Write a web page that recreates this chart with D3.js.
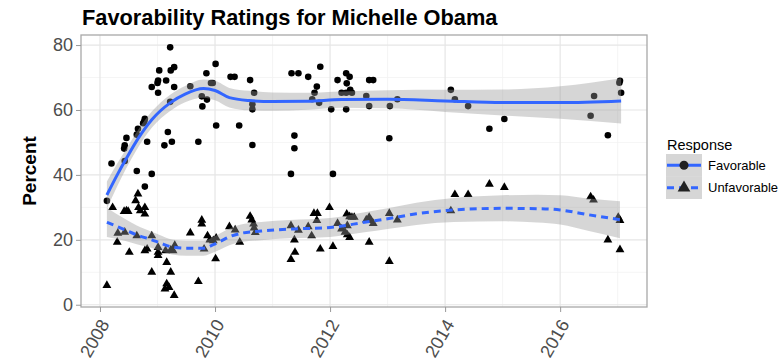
<!DOCTYPE html>
<html>
<head>
<meta charset="utf-8">
<script src="https://cdn.jsdelivr.net/npm/d3@7"></script>
<style>
  html, body { margin: 0; padding: 0; background: #fff; }
  svg { display: block; font-family: "Liberation Sans", Arial, sans-serif; }
</style>
</head>
<body>
<svg id="chart" width="778" height="360"></svg>
<script>
// Poll results: decimal year and percent for each survey
const favYear = [2008.12, 2008.20, 2008.42, 2008.43, 2008.43, 2008.46, 2008.64, 2008.64, 2008.66, 2008.75,
  2008.77, 2008.78, 2008.78, 2008.82, 2008.90, 2008.90, 2009.00, 2009.01, 2009.01, 2009.03,
  2009.12, 2009.15, 2009.18, 2009.22, 2009.22, 2009.23, 2009.25, 2009.29, 2009.29, 2009.57,
  2009.71, 2009.77, 2009.78, 2009.85, 2009.86, 2009.93, 2009.96, 2010.01, 2010.02, 2010.27,
  2010.34, 2010.42, 2010.61, 2010.65, 2010.65, 2010.65, 2010.68, 2011.32, 2011.33, 2011.38,
  2011.38, 2011.45, 2011.62, 2011.69, 2011.73, 2011.77, 2011.81, 2011.83, 2012.02, 2012.05,
  2012.13, 2012.20, 2012.28, 2012.28, 2012.28, 2012.29, 2012.34, 2012.35, 2012.38, 2012.63,
  2012.68, 2012.68, 2012.75, 2013.03, 2013.04, 2013.17, 2014.10, 2014.17, 2014.40, 2014.77,
  2015.03, 2016.53, 2016.59, 2016.83, 2017.03, 2017.04, 2017.06];
const favValue = [32.0, 43.5, 48.1, 49.1, 44.3, 51.4, 41.2, 52.4, 54.2, 55.9,
  56.5, 57.3, 36.4, 50.2, 40.3, 67.1, 68.3, 69.1, 65.3, 72.2,
  49.1, 69.1, 53.2, 79.3, 62.5, 72.2, 50.2, 73.2, 67.1, 67.3,
  50.2, 64.2, 61.1, 71.3, 63.2, 68.3, 68.3, 74.2, 55.2, 70.2,
  70.2, 55.2, 69.2, 61.8, 60.2, 49.2, 65.3, 40.3, 71.3, 52.1,
  48.2, 71.3, 70.2, 63.3, 65.3, 67.2, 62.2, 73.3, 60.2, 40.3,
  69.2, 65.3, 71.3, 65.3, 60.2, 68.2, 70.2, 66.2, 65.3, 64.3,
  69.2, 61.2, 69.2, 51.3, 61.2, 63.3, 66.2, 63.3, 61.2, 54.2,
  57.2, 58.2, 64.3, 52.2, 68.4, 69.0, 65.3];

const unfYear = [2008.12, 2008.22, 2008.30, 2008.31, 2008.42, 2008.43, 2008.46, 2008.49, 2008.51, 2008.62,
  2008.64, 2008.66, 2008.67, 2008.70, 2008.78, 2008.78, 2008.78, 2008.82, 2008.90, 2008.90,
  2009.01, 2009.01, 2009.01, 2009.13, 2009.14, 2009.16, 2009.16, 2009.20, 2009.23, 2009.23,
  2009.27, 2009.29, 2009.30, 2009.57, 2009.71, 2009.77, 2009.77, 2009.81, 2009.87, 2009.91,
  2009.97, 2010.01, 2010.02, 2010.25, 2010.35, 2010.43, 2010.61, 2010.64, 2010.67, 2010.68,
  2010.70, 2011.32, 2011.32, 2011.38, 2011.39, 2011.45, 2011.62, 2011.68, 2011.72, 2011.77,
  2011.78, 2011.83, 2011.99, 2012.05, 2012.13, 2012.20, 2012.26, 2012.29, 2012.30, 2012.30,
  2012.34, 2012.34, 2012.38, 2012.42, 2012.63, 2012.68, 2012.68, 2012.71, 2012.75, 2013.03,
  2013.03, 2013.17, 2014.10, 2014.17, 2014.40, 2014.77, 2015.03, 2016.53, 2016.58, 2016.83,
  2017.01, 2017.04, 2017.04];
const unfValue = [6.2, 30.2, 19.5, 22.3, 29.0, 22.6, 29.2, 29.0, 16.4, 32.3,
  21.5, 34.4, 30.2, 29.2, 30.2, 28.2, 16.9, 17.4, 21.5, 10.3,
  17.9, 16.4, 15.4, 5.1, 16.9, 13.3, 6.7, 5.6, 17.1, 10.3,
  16.9, 3.1, 18.5, 22.4, 7.4, 26.3, 25.1, 17.4, 21.5, 20.2,
  20.0, 14.4, 20.8, 24.3, 23.3, 19.5, 27.5, 26.4, 25.1, 23.9,
  22.5, 24.6, 14.2, 20.2, 16.4, 23.2, 24.3, 21.5, 28.4, 26.2,
  28.4, 17.4, 30.2, 18.2, 25.3, 23.6, 22.6, 28.2, 21.8, 24.6,
  21.0, 27.4, 27.2, 27.2, 26.4, 27.2, 19.5, 26.2, 25.3, 28.4,
  13.6, 26.4, 29.2, 34.2, 34.2, 37.4, 36.4, 33.5, 32.5, 20.2,
  27.2, 26.2, 17.2];

// Loess fits with their 95% band half-widths
const favFitYear = [2008.12, 2008.30, 2008.45, 2008.67, 2008.90, 2009.22, 2009.48, 2009.80, 2010.00, 2010.25,
  2010.60, 2011.00, 2011.60, 2012.20, 2013.00, 2014.00, 2015.00, 2016.00, 2017.06];
const favFit = [33.8, 40.0, 44.8, 51.4, 57.0, 62.2, 64.9, 66.6, 66.0, 63.8,
  62.9, 62.6, 62.7, 63.2, 63.3, 62.8, 62.3, 62.3, 62.8];
const favSe = [4.2, 3.5, 3.0, 2.7, 2.5, 2.5, 2.5, 2.8, 3.0, 3.0,
  3.0, 2.8, 2.6, 2.5, 2.8, 3.4, 4.0, 5.0, 7.0];

const unfFitYear = [2008.12, 2008.43, 2008.64, 2008.90, 2009.05, 2009.25, 2009.50, 2009.80, 2009.97, 2010.10,
  2010.26, 2010.45, 2010.80, 2011.30, 2012.00, 2012.60, 2013.00, 2013.50, 2014.15, 2015.00,
  2015.60, 2016.00, 2016.50, 2017.04];
const unfFit = [25.4, 23.1, 21.5, 20.0, 19.0, 17.8, 17.4, 17.4, 18.5, 19.6,
  21.0, 22.0, 22.7, 23.3, 23.8, 25.4, 26.5, 28.0, 29.2, 29.7,
  29.6, 29.2, 27.7, 26.2];
const unfSe = [4.5, 3.4, 2.9, 2.5, 2.4, 2.3, 2.3, 2.3, 2.4, 2.5,
  2.6, 2.7, 2.8, 2.8, 2.9, 3.1, 3.2, 3.4, 3.7, 4.0,
  4.3, 4.5, 5.0, 5.7];

const responses = ["Favorable", "Unfavorable"];
const xTicks = [2008, 2010, 2012, 2014, 2016];
const xMinor = [2009, 2011, 2013, 2015, 2017];
const yTicks = [0, 20, 40, 60, 80];
const yMinor = [10, 30, 50, 70];

const svg = d3.select("#chart");
const panel = { left: 81, right: 647, top: 35, bottom: 307 };

const x = d3.scaleLinear().domain([2007.67, 2017.51]).range([panel.left, panel.right]);
const y = d3.scaleLinear().domain([-0.7, 83.1]).range([panel.bottom, panel.top]);

// Title
svg.append("text")
  .attr("x", 82).attr("y", 25)
  .attr("font-size", 21.8).attr("font-weight", "bold").attr("fill", "#000")
  .text("Favorability Ratings for Michelle Obama");

// Panel background and grid
const g = svg.append("g");
g.append("rect").attr("x", panel.left).attr("y", panel.top)
  .attr("width", panel.right - panel.left).attr("height", panel.bottom - panel.top)
  .attr("fill", "#fff");

g.selectAll(".ymin").data(yMinor).join("line")
  .attr("x1", panel.left).attr("x2", panel.right)
  .attr("y1", d => y(d)).attr("y2", d => y(d))
  .attr("stroke", "#f3f3f3").attr("stroke-width", 0.8);
g.selectAll(".xmin").data(xMinor).join("line")
  .attr("y1", panel.top).attr("y2", panel.bottom)
  .attr("x1", d => x(d)).attr("x2", d => x(d))
  .attr("stroke", "#f3f3f3").attr("stroke-width", 0.8);
g.selectAll(".ymaj").data(yTicks).join("line")
  .attr("x1", panel.left).attr("x2", panel.right)
  .attr("y1", d => y(d)).attr("y2", d => y(d))
  .attr("stroke", "#e6e6e6").attr("stroke-width", 1.2);
g.selectAll(".xmaj").data(xTicks).join("line")
  .attr("y1", panel.top).attr("y2", panel.bottom)
  .attr("x1", d => x(d)).attr("x2", d => x(d))
  .attr("stroke", "#e6e6e6").attr("stroke-width", 1.2);

// Points
const favPts = favYear.map((d, i) => ({ x: d, y: favValue[i] }));
const unfPts = unfYear.map((d, i) => ({ x: d, y: unfValue[i] }));
const tri = d3.symbol().type(d3.symbolTriangle).size(34);

g.selectAll(".fav").data(favPts).join("circle")
  .attr("cx", d => x(d.x)).attr("cy", d => y(d.y)).attr("r", 3.3)
  .attr("fill", "#000");
g.selectAll(".unf").data(unfPts).join("path")
  .attr("d", tri)
  .attr("transform", d => `translate(${x(d.x)},${y(d.y) + 0.8})`)
  .attr("fill", "#000");

// Smooth fits: confidence ribbon then line
function fitRows(years, fit, se) {
  return years.map((d, i) => ({ x: d, y: fit[i], lo: fit[i] - se[i], hi: fit[i] + se[i] }));
}
const fits = [
  { name: responses[0], rows: fitRows(favFitYear, favFit, favSe), dash: null },
  { name: responses[1], rows: fitRows(unfFitYear, unfFit, unfSe), dash: "7,5" }
];
const area = d3.area().curve(d3.curveMonotoneX)
  .x(d => x(d.x)).y0(d => y(d.lo)).y1(d => y(d.hi));
const line = d3.line().curve(d3.curveMonotoneX)
  .x(d => x(d.x)).y(d => y(d.y));

fits.forEach(f => {
  g.append("path").attr("d", area(f.rows))
    .attr("fill", "#999").attr("fill-opacity", 0.4);
});
fits.forEach(f => {
  g.append("path").attr("d", line(f.rows))
    .attr("fill", "none").attr("stroke", "#3366ff").attr("stroke-width", 3)
    .attr("stroke-dasharray", f.dash);
});

// Panel border
g.append("rect").attr("x", panel.left).attr("y", panel.top)
  .attr("width", panel.right - panel.left).attr("height", panel.bottom - panel.top)
  .attr("fill", "none").attr("stroke", "#a8a8a8").attr("stroke-width", 1.3);

// Y axis
const yAxis = d3.axisLeft(y).tickValues(yTicks).tickSize(5).tickPadding(3);
const ya = svg.append("g").attr("transform", `translate(${panel.left},0)`).call(yAxis);
ya.select(".domain").remove();
ya.selectAll("line").attr("stroke", "#999");
ya.selectAll("text").attr("font-size", 18).attr("fill", "#4d4d4d")
  .attr("font-family", "'Liberation Sans', Arial, sans-serif");

// X axis with rotated labels
const xAxis = d3.axisBottom(x).tickValues(xTicks).tickFormat(d3.format("d")).tickSize(5);
const xa = svg.append("g").attr("transform", `translate(0,${panel.bottom})`).call(xAxis);
xa.select(".domain").remove();
xa.selectAll("line").attr("stroke", "#999");
xa.selectAll("text")
  .attr("font-size", 18).attr("fill", "#4d4d4d")
  .attr("font-family", "'Liberation Sans', Arial, sans-serif")
  .attr("text-anchor", "end")
  .attr("dy", "0.35em").attr("y", 0)
  .attr("transform", "translate(4,14) rotate(-60)");

// Y axis title
svg.append("text")
  .attr("transform", `translate(36,${(panel.top + panel.bottom) / 2}) rotate(-90)`)
  .attr("text-anchor", "middle")
  .attr("font-size", 19).attr("font-weight", "bold").attr("fill", "#000")
  .text("Percent");

// Legend
const lg = svg.append("g").attr("transform", "translate(666,0)");
lg.append("text").attr("x", 1).attr("y", 150)
  .attr("font-size", 14.5).attr("fill", "#000").text("Response");
const keyH = 22.5, keyW = 36, keyTop = 154;
responses.forEach((r, i) => {
  const ky = keyTop + i * keyH;
  lg.append("rect").attr("x", 0).attr("y", ky).attr("width", keyW).attr("height", keyH)
    .attr("fill", "#999").attr("fill-opacity", 0.4);
  lg.append("line").attr("x1", 1).attr("x2", keyW - 1)
    .attr("y1", ky + keyH / 2).attr("y2", ky + keyH / 2)
    .attr("stroke", "#3366ff").attr("stroke-width", 3)
    .attr("stroke-dasharray", fits[i].dash);
  if (i === 0) {
    lg.append("circle").attr("cx", keyW / 2).attr("cy", ky + keyH / 2).attr("r", 4.5).attr("fill", "#222");
  } else {
    lg.append("path").attr("d", d3.symbol().type(d3.symbolTriangle).size(70)())
      .attr("transform", `translate(${keyW / 2},${ky + keyH / 2})`).attr("fill", "#222");
  }
  lg.append("text").attr("x", keyW + 6).attr("y", ky + keyH / 2).attr("dy", "0.35em")
    .attr("font-size", 13).attr("fill", "#000").text(r);
});
</script>
</body>
</html>
